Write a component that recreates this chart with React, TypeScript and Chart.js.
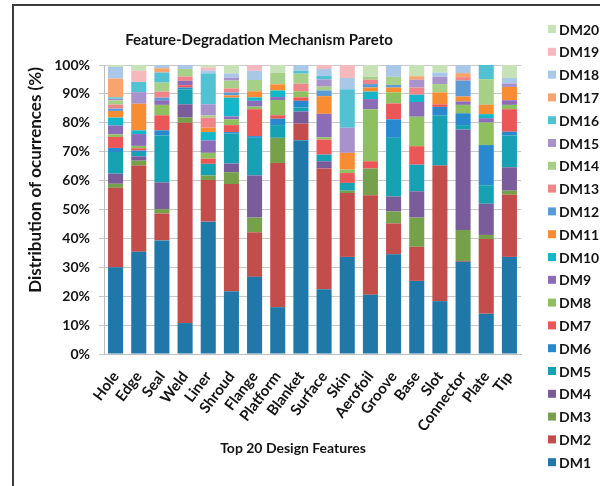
import React, { useEffect, useRef } from "react";
import { Chart, registerables } from "chart.js";

Chart.register(...registerables);

const categories = [
  "Hole", "Edge", "Seal", "Weld", "Liner", "Shroud", "Flange", "Platform", "Blanket",
  "Surface", "Skin", "Aerofoil", "Groove", "Base", "Slot", "Connector", "Plate", "Tip",
];

const seriesNames = [
  "DM1", "DM2", "DM3", "DM4", "DM5", "DM6", "DM7", "DM8", "DM9", "DM10",
  "DM11", "DM12", "DM13", "DM14", "DM15", "DM16", "DM17", "DM18", "DM19", "DM20",
];

const dm1 = [30, 35.4, 39.3, 10.7, 45.8, 21.7, 26.7, 16.2, 74, 22.4, 33.6, 20.5, 34.5, 25.3, 18.3, 31.9, 13.9, 33.6];
const dm2 = [27.5, 29.8, 9.3, 69.3, 14.4, 37.1, 15.4, 49.9, 5.7, 41.8, 22.1, 34.4, 10.7, 11.8, 46.9, 0.3, 25.9, 21.5];
const dm3 = [1.4, 1.7, 1.5, 1.8, 1.6, 4.1, 5.1, 8.7, 0, 0, 0.8, 9.3, 4.1, 10.1, 0, 10.7, 1.4, 1.4];
const dm4 = [3.5, 1.5, 9.3, 4.6, 0, 3, 14.6, 0, 4.2, 2.5, 0, 0, 5.2, 9.1, 0, 34.8, 10.8, 8.1];
const dm5 = [7.5, 1.5, 16.2, 5.2, 4, 10.4, 13, 4.4, 1.4, 2.3, 2.7, 0, 20.3, 9.2, 17.4, 1.5, 6.4, 11];
const dm6 = [1.4, 0.5, 1.8, 0.6, 0, 0.5, 0.6, 2.2, 2.3, 0, 0, 0, 6.4, 0, 2.9, 4.1, 13.9, 1.3];
const dm7 = [3.8, 0.8, 5.2, 0.8, 1.8, 2.4, 9.3, 1.2, 1.2, 5.2, 3.4, 2.5, 5.5, 6.4, 0.9, 0, 0, 7.8];
const dm8 = [0.9, 0.8, 3.6, 0, 2, 2, 0.9, 5.3, 2.1, 0.8, 1.2, 18, 3.8, 10.2, 0, 2.9, 7.8, 1.5];
const dm9 = [3.1, 4.1, 1.6, 1.5, 4.3, 1, 2, 1, 0, 8.1, 0, 3.5, 0, 5.1, 0, 1.2, 1.5, 1.6];
const dm10 = [2.7, 1.3, 0, 0, 2.9, 6.5, 1.2, 2.3, 0, 0, 0, 2.6, 0, 2.5, 0, 0, 1.4, 0];
const dm11 = [2.3, 9.2, 0, 0, 1.5, 0.8, 2.1, 2.1, 0, 6.1, 5.8, 1.4, 1.7, 0, 4.1, 1.7, 3.2, 4.6];
const dm12 = [0.8, 0, 0.9, 0, 0, 1, 0, 0, 0, 2, 0, 1.2, 0.9, 0, 0, 5.5, 0, 0];
const dm13 = [1.4, 0, 2.1, 1.5, 3.5, 1.4, 0, 0, 2.6, 0, 0, 1.5, 0, 2.5, 0, 1.2, 0, 0];
const dm14 = [1.5, 0, 3.1, 2.6, 0.8, 2.7, 3.9, 4, 3.5, 1.3, 0, 1, 2.8, 0, 2.9, 0, 8.9, 0];
const dm15 = [0.5, 4, 0, 0, 3.8, 1, 0, 0, 0, 2.5, 8.7, 0, 0, 2.7, 2.5, 0, 0, 1.2];
const dm16 = [0.5, 3.5, 3.5, 0, 10.7, 0, 0, 0, 1, 1.2, 13.3, 0, 0, 0, 0, 0, 4.9, 0];
const dm17 = [6.5, 0, 1.5, 0, 0, 0, 0, 0, 0, 0, 0, 0, 0, 1.2, 0, 1.4, 0, 0];
const dm18 = [4, 0, 1.1, 1.4, 1, 1.5, 3.2, 0, 2, 2.4, 3.9, 0, 4.1, 0, 1.5, 2.8, 0, 1.9];
const dm19 = [0, 3.9, 0, 0, 1, 0, 2, 0, 0, 1.4, 4.5, 0, 0, 0, 0, 0, 0, 0];
const dm20 = [0.7, 2, 0, 0, 0.9, 2.9, 0, 2.7, 0, 0, 0, 4.1, 0, 3.9, 2.6, 0, 0, 4.5];

const seriesValues = [
  dm1, dm2, dm3, dm4, dm5, dm6, dm7, dm8, dm9, dm10,
  dm11, dm12, dm13, dm14, dm15, dm16, dm17, dm18, dm19, dm20,
];

const seriesColors = [
  "#1F78A8", "#C24D4B", "#76A04A", "#7A5C9A", "#17A2B3", "#2A89CE", "#EB5757", "#8FC060",
  "#8A6CB8", "#14B6C9", "#F78C32", "#5A9BD5", "#F08589", "#A6CF88", "#A792CB", "#52C1D2",
  "#F8A46E", "#A9C8E8", "#F5B8BD", "#C6E2B6",
];

const yTickValues = [0, 10, 20, 30, 40, 50, 60, 70, 80, 90, 100];

const chartTitle = "Feature-Degradation Mechanism Pareto";
const yTitle = "Distribution of ocurrences (%)";
const xTitle = "Top 20 Design Features";

const FONT = 'Lato, "Open Sans", "DejaVu Sans", sans-serif';
const TEXT = "#141414";

const overlayPlugin = {
  id: "overlay",
  afterDraw(chart: any) {
    const ctx = chart.ctx as CanvasRenderingContext2D;
    ctx.save();
    // outer frame (partially cropped figure border)
    ctx.strokeStyle = "#3a3a3a";
    ctx.lineWidth = 2;
    ctx.beginPath();
    ctx.moveTo(13, 486);
    ctx.lineTo(13, 5);
    ctx.lineTo(600, 5);
    ctx.stroke();

    ctx.fillStyle = TEXT;
    ctx.textAlign = "center";
    ctx.textBaseline = "middle";
    ctx.font = `bold 15px ${FONT}`;
    ctx.fillText(chartTitle, 259, 40);

    ctx.font = `bold 14px ${FONT}`;
    ctx.fillText(xTitle, 293, 448);

    ctx.save();
    ctx.translate(36, 180);
    ctx.rotate(-Math.PI / 2);
    ctx.font = `bold 17px ${FONT}`;
    ctx.fillText(yTitle, 0, 0);
    ctx.restore();

    // legend (reversed order: DM20 at top)
    const ds = chart.data.datasets;
    ctx.textAlign = "left";
    ctx.font = `bold 14px ${FONT}`;
    for (let i = 0; i < ds.length; i++) {
      const d = ds[ds.length - 1 - i];
      const cy = 29 + i * 22.8;
      ctx.fillStyle = d.backgroundColor;
      ctx.fillRect(548, cy - 4, 8, 8);
      ctx.fillStyle = TEXT;
      ctx.fillText(d.label, 559, cy + 1);
    }
    ctx.restore();
  },
};

export default function App() {
  const canvasRef = useRef<HTMLCanvasElement | null>(null);

  useEffect(() => {
    if (!canvasRef.current) return;
    const chart = new Chart(canvasRef.current, {
      type: "bar",
      data: {
        labels: categories,
        datasets: seriesNames.map((name, i) => ({
          label: name,
          data: seriesValues[i],
          backgroundColor: seriesColors[i],
          borderWidth: 0,
          barPercentage: 0.65,
          categoryPercentage: 1.0,
        })),
      },
      options: {
        animation: false,
        responsive: false,
        layout: { padding: { top: 65, right: 84, left: 0, bottom: 0 } },
        plugins: {
          legend: { display: false },
          title: { display: false },
          tooltip: { enabled: false },
        },
        scales: {
          x: {
            stacked: true,
            grid: { display: false },
            border: { display: true, color: "#bdbdbd" },
            ticks: {
              autoSkip: false,
              maxRotation: 53,
              minRotation: 53,
              padding: 6,
              color: TEXT,
              font: { family: FONT, size: 15, weight: "bold" },
            },
            afterFit: (s: any) => {
              s.height = 132;
            },
          },
          y: {
            stacked: true,
            min: 0,
            max: 100,
            afterBuildTicks: (s: any) => {
              s.ticks = yTickValues.map((v) => ({ value: v }));
            },
            ticks: {
              padding: 9,
              color: TEXT,
              font: { family: FONT, size: 14, weight: "bold" },
              callback: (v: any) => `${v}%`,
            },
            grid: { color: "#c8c8c8", tickLength: 5, lineWidth: 1 },
            border: { color: "#bdbdbd" },
            afterFit: (s: any) => {
              s.width = 104;
            },
          },
        },
      },
      plugins: [overlayPlugin],
    });
    return () => chart.destroy();
  }, []);

  return (
    <div style={{ position: "fixed", left: 0, top: 0, width: 605, height: 486, background: "#fff" }}>
      <canvas ref={canvasRef} width={605} height={486} style={{ display: "block" }} />
    </div>
  );
}
